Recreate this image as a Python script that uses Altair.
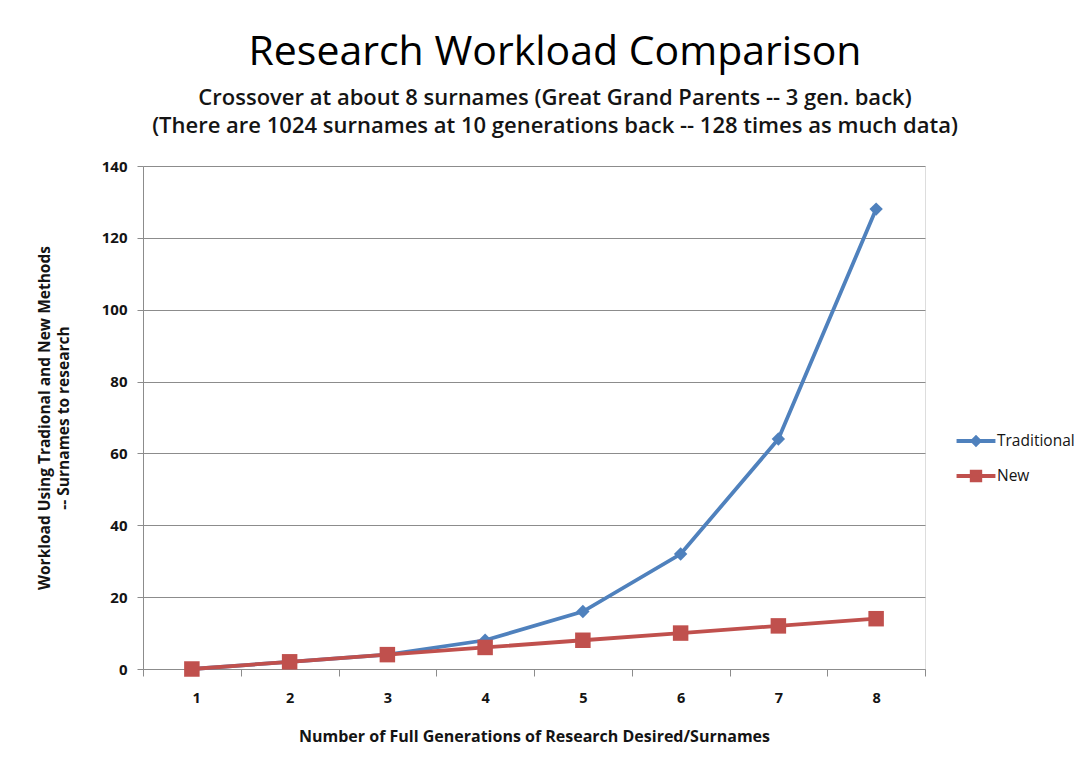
import altair as alt
import pandas as pd

generations = [1, 2, 3, 4, 5, 6, 7, 8]
traditional = [0, 2, 4, 8, 16, 32, 64, 128]
new_method = [0, 2, 4, 6, 8, 10, 12, 14]
series_names = ["Traditional", "New"]
series_colors = ["#4F81BD", "#C0504D"]
x_tick_values = [0.5, 1.5, 2.5, 3.5, 4.5, 5.5, 6.5, 7.5, 8.5]
y_tick_values = [0, 20, 40, 60, 80, 100, 120, 140]

rows = []
for g, v in zip(generations, traditional):
    rows.append({"gen": g, "series": "Traditional", "value": v})
for g, v in zip(generations, new_method):
    rows.append({"gen": g, "series": "New", "value": v})
df = pd.DataFrame(rows)

FONT = "Open Sans"
TXT = "#141414"
GRID = "#8c8c8c"

x_enc = alt.X(
    "gen:Q",
    scale=alt.Scale(domain=[0.5, 8.5], nice=False, zero=False),
    axis=alt.Axis(
        title="Number of Full Generations of Research Desired/Surnames",
        values=x_tick_values,
        labelExpr="datum.value < 8 ? format(datum.value + 0.5, 'd') : ''",
        labelOffset=48.9,
        grid=False,
        tickSize=7,
        tickColor=GRID,
        domainColor=GRID,
        labelFont=FONT,
        labelFontSize=14.5,
        labelFontWeight="bold",
        labelColor=TXT,
        labelPadding=15,
        titleFont=FONT,
        titleFontSize=16,
        titleFontWeight="bold",
        titleColor=TXT,
        titlePadding=24,
    ),
)
y_enc = alt.Y(
    "value:Q",
    scale=alt.Scale(domain=[0, 140], nice=False),
    axis=alt.Axis(
        title=["Workload Using Tradional and New Methods", "-- Surnames to research"],
        values=y_tick_values,
        grid=True,
        gridColor=GRID,
        gridWidth=1,
        tickSize=6,
        tickColor=GRID,
        domainColor=GRID,
        labelFont=FONT,
        labelFontSize=15,
        labelFontWeight="bold",
        labelColor=TXT,
        labelPadding=10,
        titleFont=FONT,
        titleFontSize=15.5,
        titleFontWeight="bold",
        titleColor=TXT,
        titlePadding=30,
        titleLineHeight=19,
    ),
)

# legend glyphs: a short line with the marker on it (clockwise sub-paths)
legend_paths = [
    "M-1.1,-0.08L1.1,-0.08L1.1,0.08L-1.1,0.08Z M-0.3,0L0,-0.3L0.3,0L0,0.3Z",
    "M-1.1,-0.08L1.1,-0.08L1.1,0.08L-1.1,0.08Z M-0.32,-0.32L0.32,-0.32L0.32,0.32L-0.32,0.32Z",
]

color_scale = alt.Scale(domain=series_names, range=series_colors)

legend = alt.Legend(
    orient="none",
    legendX=815,
    legendY=257,
    title=None,
    symbolSize=1156,
    symbolOpacity=1,
    labelFont=FONT,
    labelFontSize=15.5,
    labelColor=TXT,
    labelOffset=3,
    rowPadding=8,
)

base = alt.Chart(df)

legend_layer = base.mark_point(filled=True, opacity=0).encode(
    x=x_enc,
    y=y_enc,
    color=alt.Color("series:N", scale=color_scale, legend=legend),
    shape=alt.Shape("series:N", scale=alt.Scale(domain=series_names, range=legend_paths), legend=legend),
)


def series_layers(name, shape, size):
    src = base.transform_filter(alt.datum.series == name)
    line = src.mark_line(strokeWidth=3.8).encode(
        x=x_enc, y=y_enc, color=alt.Color("series:N", scale=color_scale, legend=None)
    )
    pts = src.mark_point(filled=True, opacity=1, shape=shape, size=size).encode(
        x=x_enc,
        y=y_enc,
        color=alt.Color("series:N", scale=color_scale, legend=None),
    )
    return [line, pts]


layers = [legend_layer] + series_layers("Traditional", "diamond", 180) + series_layers("New", "square", 240)

chart = alt.layer(*layers).properties(
    width=782,
    height=503,
    autosize=alt.AutoSizeParams(type="none"),
    padding={"left": 135, "top": 158, "right": 150, "bottom": 85},
    title=alt.TitleParams(
        text="Research Workload Comparison",
        subtitle=[
            "Crossover at about 8 surnames (Great Grand Parents -- 3 gen. back)",
            "(There are 1024 surnames at 10 generations back -- 128 times as much data)",
        ],
        anchor="middle",
        dx=21,
        offset=21,
        font=FONT,
        fontSize=41,
        fontWeight="normal",
        color="#000000",
        subtitleFont=FONT,
        subtitleFontSize=22,
        subtitleFontWeight=600,
        subtitleColor=TXT,
        subtitlePadding=14,
        subtitleLineHeight=28,
    ),
).configure_view(strokeWidth=0).configure(background="white")

chart.save("out.html", embed_options={"renderer": "svg", "actions": False})
